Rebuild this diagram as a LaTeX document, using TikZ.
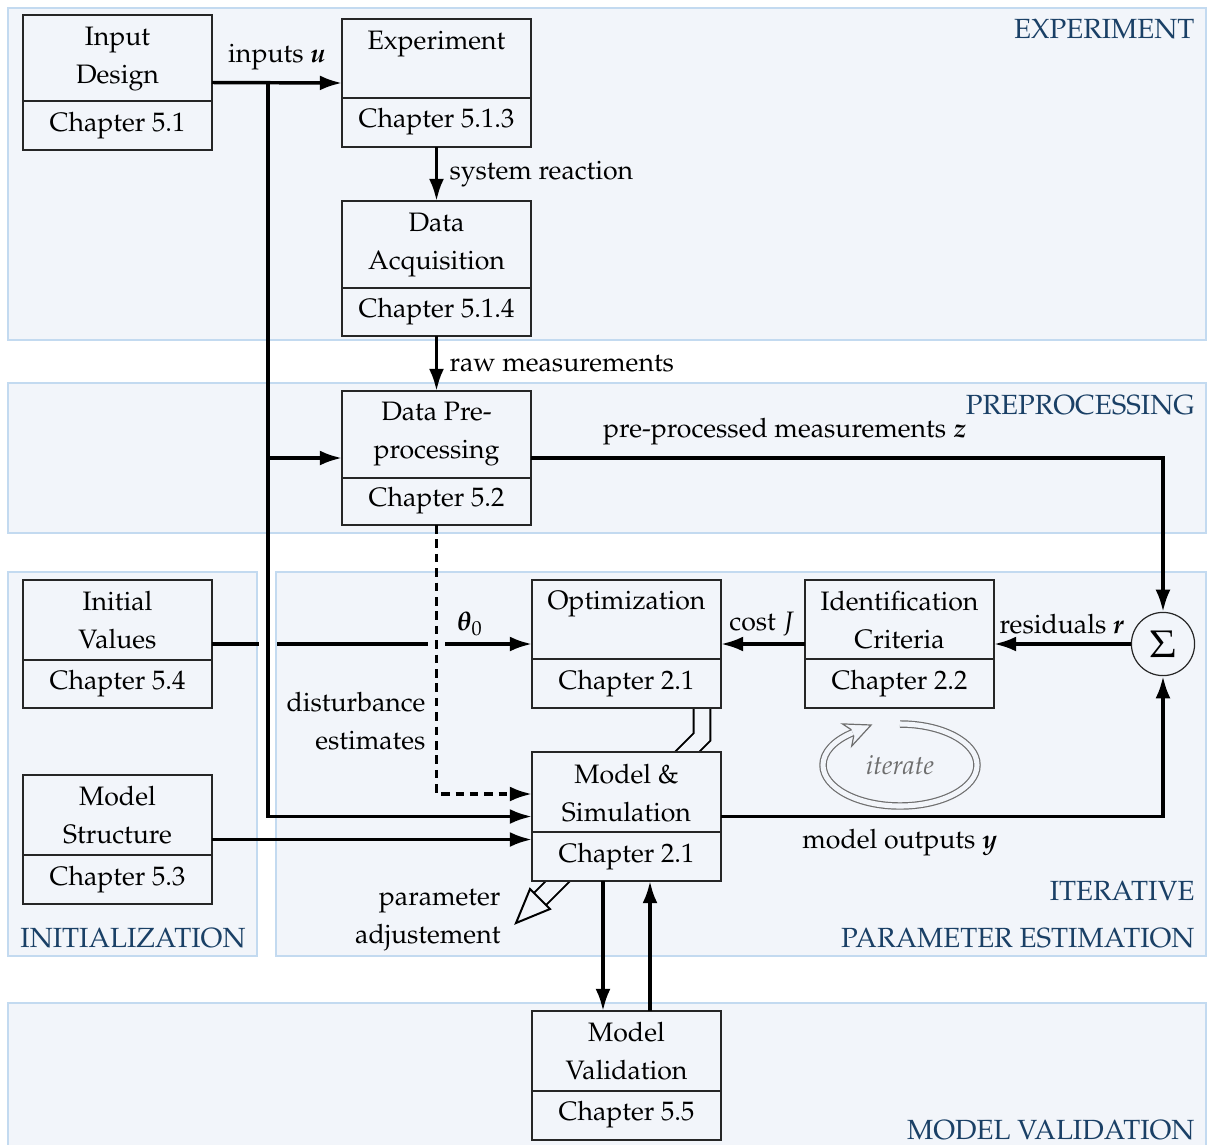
\documentclass[tikz,border=0pt]{standalone}
\usepackage[T1]{fontenc}
\usepackage{mathpazo}
\usepackage{bm}
\usetikzlibrary{arrows.meta}
\definecolor{bgfill}{RGB}{242,245,250}
\definecolor{bgline}{RGB}{195,218,240}
\definecolor{labcol}{RGB}{26,64,102}
\definecolor{itercol}{RGB}{110,110,110}
\newcommand\chbox[9]{%
  \node[boxframe, minimum width=70.875pt, minimum height={(#4-#3)*0.375pt}, anchor=north west] (#1) at (#2,#3) {};
  \draw[boxline] (#1.west |- 0,#5) -- (#1.east |- 0,#5);
  \node[txt] at (#1.center |- 0,#6) {#7};
  \node[txt] at (#1.center |- 0,#8) {#9};
}
\begin{document}
\begin{tikzpicture}[x=0.375pt,y=-0.375pt,
  panel/.style={draw=bgline, fill=bgfill, line width=0.4pt},
  plabel/.style={text=labcol, inner sep=0pt, font=\fontsize{10.4}{12}\selectfont},
  boxframe/.style={draw=black!85, fill=bgfill, line width=0.45pt, inner sep=0pt, outer sep=0pt},
  boxline/.style={draw=black!85, line width=0.45pt},
  txt/.style={align=center, inner sep=0pt},
  elabel/.style={inner sep=0pt},
  plain/.style={line width=1.3pt},
  flow/.style={line width=1.3pt, -{Latex[length=8.3pt,width=5.6pt]}},
  dflow/.style={flow, dash pattern=on 3.2pt off 2.2pt},
  dbl/.style={draw=black, line width=0.75pt, double=bgfill, double distance=5.6pt},
  iterline/.style={draw=itercol, line width=0.45pt},
]
\fill[white] (0,0) rectangle (1208,1144);
\useasboundingbox (0,0) rectangle (1208,1144);

% panels
\draw[panel] (8,8) rectangle (1206,340);
\draw[panel] (8,383) rectangle (1206,533);
\draw[panel] (8,572) rectangle (257,956);
\draw[panel] (276,572) rectangle (1206,956);
\draw[panel] (8,1003) rectangle (1206,1150);

\node[plabel, anchor=east] (lexp) at (1195,29) {EXPERIMENT};
\node[plabel, anchor=east] (lpre) at (1195,405) {PREPROCESSING};
\node[plabel] (lini) at (133,938) {INITIALIZATION};
\node[plabel, anchor=east] (lit1) at (1195,891) {ITERATIVE};
\node[plabel, anchor=east] (lit2) at (1195,938) {PARAMETER ESTIMATION};
\node[plabel, anchor=east] (lval) at (1195,1130) {MODEL VALIDATION};

% parameter adjustment double arrow (behind model box)
\coordinate (pa1) at (702,708);
\coordinate (pa2) at (702,737);
\coordinate (pa3) at (540,899);
\draw[dbl] (pa1) -- (pa2) -- (pa3);
\draw[line width=0.75pt, fill=bgfill] (530,889) -- (516,923) -- (550,909) -- cycle;

% boxes
\chbox{indes}{23}{15}{150}{101}{59}{Input\\[2.25pt]Design}{126}{Chapter 5.1}
\chbox{expt}{342}{19}{147}{98}{44}{Experiment}{122}{Chapter 5.1.3}
\chbox{acq}{342}{201}{336}{288}{245}{Data\\[2.25pt]Acquisition}{312}{Chapter 5.1.4}
\chbox{prep}{342}{391}{525}{478}{434}{Data Pre-\\[2.25pt]processing}{501}{Chapter 5.2}
\chbox{opt}{532}{580}{708}{659}{604}{Optimization}{684}{Chapter 2.1}
\chbox{idc}{805}{580}{708}{659}{620}{Identification\\[2.25pt]Criteria}{684}{Chapter 2.2}
\chbox{ival}{23}{580}{708}{660}{620}{Initial\\[2.25pt]Values}{684}{Chapter 5.4}
\chbox{mstr}{23}{775}{904}{855}{815}{Model\\[2.25pt]Structure}{880}{Chapter 5.3}
\chbox{msim}{532}{752}{881}{832}{793}{Model \&\\[2.25pt]Simulation}{857}{Chapter 2.1}
\chbox{mval}{532}{1011}{1140}{1091}{1051}{Model\\[2.25pt]Validation}{1115}{Chapter 5.5}

\node[circle, draw=black!85, line width=0.45pt, fill=bgfill, minimum size=23.7pt, inner sep=0pt] (sum) at (1163,644) {\Large$\Sigma$};

% connectors
\draw[flow] (indes.east) -- (expt.west);
\node[elabel] at (277,57) {inputs $\bm{u}$};
\coordinate (b1) at (268,83);
\draw[flow] (b1) |- (msim.west);
\draw[flow] (b1 |- prep.west) -- (prep.west);

\draw[flow] (expt.south) -- (acq.north);
\node[elabel, anchor=west] at (449,174) {system reaction};
\draw[flow] (acq.south) -- (prep.north);
\node[elabel, anchor=west] at (449,364) {raw measurements};

\draw[flow] (prep.east) -| (sum.north);
\node[elabel] at (785,432) {pre-processed measurements $\bm{z}$};

\coordinate (dd) at (532,794);
\draw[dflow] (prep.south) |- (dd);
\node[txt, align=right, anchor=east] at (426,721) {disturbance\\[2.25pt]estimates};

\coordinate (g1) at (259,644);
\coordinate (g2) at (277,644);
\coordinate (g3) at (428,644);
\coordinate (g4) at (445,644);
\draw[plain] (ival.east) -- (g1);
\draw[plain] (g2) -- (g3);
\draw[flow] (g4) -- (opt.west);
\node[elabel] at (470,624) {$\bm{\theta}_0$};

\draw[flow] (idc.west) -- (opt.east);
\node[elabel] at (762,624) {cost $J$};
\draw[flow] (sum.west) -- (idc.east);
\node[elabel] at (1062,624) {residuals $\bm{r}$};

\draw[flow] (msim.east) -| (sum.south);
\node[elabel] at (900,843) {model outputs $\bm{y}$};

\draw[flow] (mstr.east) -- (msim.west |- mstr.east);

\coordinate (v1) at (603,0);
\coordinate (v2) at (650,0);
\draw[flow] (msim.south -| v1) -- (mval.north -| v1);
\draw[flow] (mval.north -| v2) -- (msim.south -| v2);

\node[txt, align=right, anchor=east] at (501,920) {parameter\\[2.25pt]adjustement};

% iterate symbol
\draw[iterline, double=bgfill, double distance=1.9pt]
  (900,724) arc[start angle=-90, end angle=232, x radius=77, y radius=41];
\draw[iterline, line join=miter] (851.4,729.8) -- (842.5,723.9) -- (871.1,725) -- (851.7,746.1) -- (853.8,735.6);
\node[elabel, text=itercol, font=\itshape] at (900,765) {iterate};
\end{tikzpicture}
\end{document}
